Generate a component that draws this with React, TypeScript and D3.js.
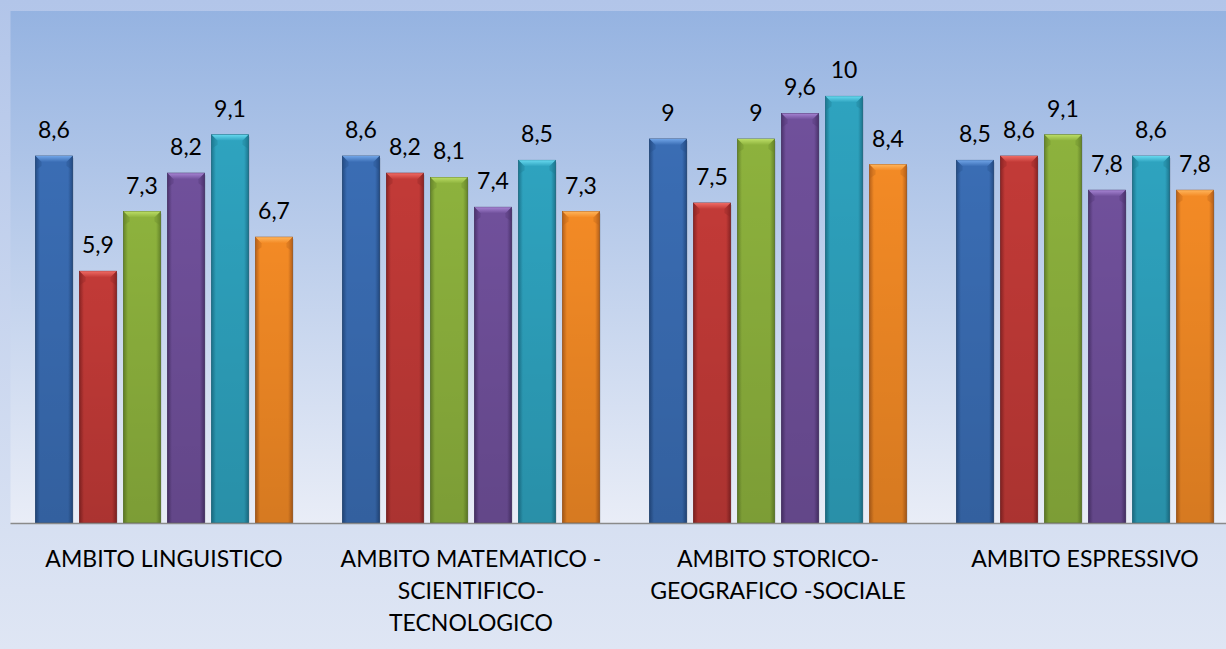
import React from "react";
import * as d3 from "d3";

const categories: string[][] = [
  ["AMBITO LINGUISTICO"],
  ["AMBITO MATEMATICO -", "SCIENTIFICO-", "TECNOLOGICO"],
  ["AMBITO STORICO-", "GEOGRAFICO -SOCIALE"],
  ["AMBITO ESPRESSIVO"],
];
const categoryKeys = ["linguistico", "matematico", "storico", "espressivo"];
const seriesNames = ["S1", "S2", "S3", "S4", "S5", "S6"];
const s1 = [8.6, 8.6, 9, 8.5];
const s2 = [5.9, 8.2, 7.5, 8.6];
const s3 = [7.3, 8.1, 9, 9.1];
const s4 = [8.2, 7.4, 9.6, 7.8];
const s5 = [9.1, 8.5, 10, 8.6];
const s6 = [6.7, 7.3, 8.4, 7.8];
const seriesValues = [s1, s2, s3, s4, s5, s6];

const palette = [
  { base: "#3a6db4", light: "#6fa3e6", dark: "#254d86", edge: "#1f4272" },
  { base: "#c23a37", light: "#ee6a64", dark: "#8c2424", edge: "#7a1f1f" },
  { base: "#8db23d", light: "#bbdd66", dark: "#67862a", edge: "#587424" },
  { base: "#70509b", light: "#a583d2", dark: "#4d346f", edge: "#432d61" },
  { base: "#2ea3bf", light: "#66d8ee", dark: "#1d7790", edge: "#18687e" },
  { base: "#f38a25", light: "#ffb45a", dark: "#b8621a", edge: "#a05516" },
];

const W = 1226;
const H = 649;
const plotLeft = 10.5;
const plotRight = 1238.5;
const plotTop = 11;
const plotBottom = 523;
const FONT = "Lato, 'Open Sans', sans-serif";

const fmt = (v: number) => String(v).replace(".", ",");

export default function App() {
  const x0 = d3.scaleBand<string>().domain(categoryKeys).range([plotLeft, plotRight]).padding(0);
  const x1 = d3
    .scaleBand<string>()
    .domain(seriesNames)
    .range([0, x0.bandwidth()])
    .paddingInner(0.159)
    .paddingOuter(0.568);
  const y = d3.scaleLinear().domain([0, 12]).range([plotBottom, plotTop]);
  const bw = x1.bandwidth();
  const bev = 6;

  return (
    <svg
      width={W}
      height={H}
      style={{ position: "fixed", left: 0, top: 0, display: "block" }}
      fontFamily={FONT}
    >
      <defs>
        <linearGradient id="bgOuter" x1="0" y1="0" x2="0" y2="1">
          <stop offset="0" stopColor="#b2c5e9" />
          <stop offset="1" stopColor="#dfe6f4" />
        </linearGradient>
        <linearGradient id="bgPlot" x1="0" y1="0" x2="0" y2="1">
          <stop offset="0" stopColor="#95b3e1" />
          <stop offset="1" stopColor="#e9edf7" />
        </linearGradient>
        <linearGradient id="shade" x1="0" y1="0" x2="0" y2="1">
          <stop offset="0" stopColor="#000" stopOpacity={0} />
          <stop offset="1" stopColor="#000" stopOpacity={0.12} />
        </linearGradient>
        {palette.map((c, i) => (
          <React.Fragment key={i}>
            <linearGradient id={`bar${i}`} x1="0" y1="0" x2="1" y2="0">
              <stop offset="0" stopColor={c.dark} />
              <stop offset="0.12" stopColor={c.base} />
              <stop offset="0.5" stopColor={c.base} />
              <stop offset="0.88" stopColor={c.base} />
              <stop offset="1" stopColor={c.dark} />
            </linearGradient>
            <linearGradient id={`top${i}`} x1="0" y1="0" x2="0" y2="1">
              <stop offset="0" stopColor={c.light} />
              <stop offset="1" stopColor={c.base} />
            </linearGradient>
          </React.Fragment>
        ))}
      </defs>
      <rect x={0} y={0} width={W} height={H} fill="url(#bgOuter)" />
      <rect x={plotLeft} y={plotTop} width={W - plotLeft} height={plotBottom - plotTop} fill="url(#bgPlot)" />

      {categoryKeys.map((ck, ci) => (
        <g key={ck} transform={`translate(${x0(ck)},0)`}>
          {seriesNames.map((sn, si) => {
            const v = seriesValues[si][ci];
            const bx = x1(sn)!;
            const by = y(v);
            const bh = plotBottom - by;
            const c = palette[si];
            return (
              <g key={sn}>
                <rect x={bx + 1.5} y={by + 2} width={bw} height={bh - 2} fill="#000" opacity={0.08} />
                <rect x={bx} y={by} width={bw} height={bh} fill={`url(#bar${si})`} stroke={c.edge} strokeWidth={0.8} />
                <rect x={bx} y={by} width={bw} height={bh} fill="url(#shade)" />
                <polygon
                  points={`${bx},${by} ${bx + bw},${by} ${bx + bw - bev},${by + bev} ${bx + bev},${by + bev}`}
                  fill={`url(#top${si})`}
                />
                <polygon
                  points={`${bx},${by} ${bx + bev},${by + bev} ${bx + bev},${by + bev + 4} ${bx},${by + bev + 8}`}
                  fill={c.dark}
                  opacity={0.35}
                />
                <polygon
                  points={`${bx + bw},${by} ${bx + bw - bev},${by + bev} ${bx + bw - bev},${by + bev + 4} ${bx + bw},${by + bev + 8}`}
                  fill={c.dark}
                  opacity={0.35}
                />
                <text
                  x={bx + bw / 2}
                  y={by - 18}
                  textAnchor="middle"
                  fontSize={23}
                  fill="#000"
                >
                  {fmt(v)}
                </text>
              </g>
            );
          })}
          {categories[ci].map((line, li) => (
            <text
              key={li}
              x={x0.bandwidth() / 2}
              y={567 + li * 32}
              textAnchor="middle"
              fontSize={23}
              fill="#000"
            >
              {line}
            </text>
          ))}
        </g>
      ))}

      <line x1={plotLeft} x2={W} y1={plotBottom + 0.5} y2={plotBottom + 0.5} stroke="#8a8a8a" strokeWidth={1.5} />
    </svg>
  );
}
